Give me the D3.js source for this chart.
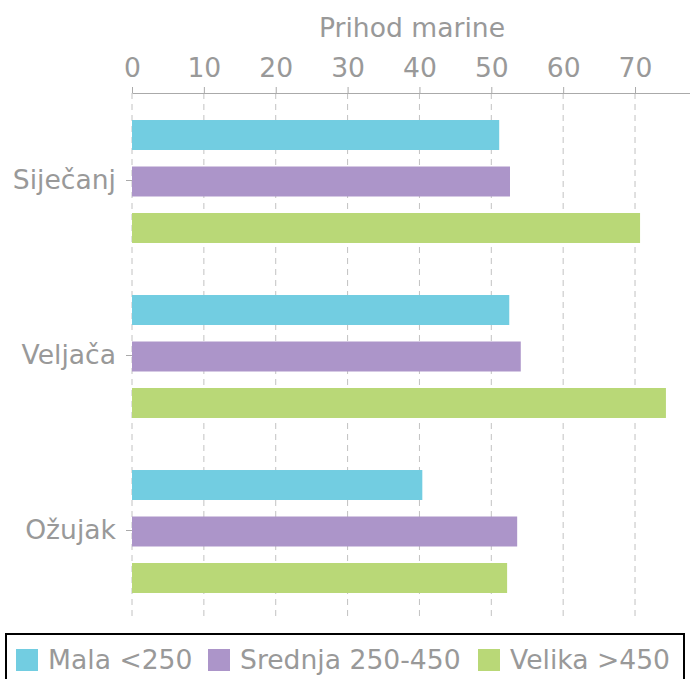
<!DOCTYPE html>
<html>
<head>
<meta charset="utf-8">
<script src="https://cdn.jsdelivr.net/npm/d3@7"></script>
<style>
    body { margin: 0; background: #fff; }
    text { font-family: 'DejaVu Sans', sans-serif; fill: #999; }
</style>
</head>
<body>
<div id="chart"></div>
<script>
// data
var months = ['Siječanj', 'Veljača', 'Ožujak'];
var series = ['Mala <250', 'Srednja 250-450', 'Velika >450'];
var mala = [51.1, 52.5, 40.4];
var srednja = [52.6, 54.1, 53.6];
var velika = [70.7, 74.3, 52.2];
var xTicks = [0, 10, 20, 30, 40, 50, 60, 70];
var colors = ['#72cde1', '#ac95c9', '#b9d877'];

var values = [mala, srednja, velika];
var width = 690, height = 679,
    plotLeft = 132, plotTop = 93, plotBottom = 618,
    fontSize = '26.6px';

var svg = d3.select('#chart').append('svg')
    .attr('width', width)
    .attr('height', height);

var x = d3.scaleLinear().domain([0, 77.65]).range([plotLeft, width]);
var y = d3.scaleBand().domain(months).range([plotTop, plotBottom]);
var yInner = d3.scaleBand().domain(series).range([2, y.bandwidth()])
    .paddingInner(0.355).paddingOuter(0.538);

// grid (0 included, it stands in for the left axis line)
svg.append('g').selectAll('line')
    .data(xTicks)
    .enter().append('line')
    .attr('x1', d => x(d)).attr('x2', d => x(d))
    .attr('y1', plotTop).attr('y2', plotBottom + 1)
    .attr('stroke', '#c2c2c2')
    .attr('stroke-dasharray', '6,5');

// bars
months.forEach(function (m, i) {
    var g = svg.append('g').attr('transform', 'translate(0,' + y(m) + ')');
    g.selectAll('rect')
        .data(series.map((s, j) => ({ s: s, v: values[j][i], c: colors[j] })))
        .enter().append('rect')
        .attr('x', x(0))
        .attr('y', d => yInner(d.s))
        .attr('width', d => x(d.v) - x(0))
        .attr('height', yInner.bandwidth())
        .attr('fill', d => d.c);
});

// top axis
var xAxis = svg.append('g')
    .attr('transform', 'translate(0,' + plotTop + ')')
    .call(d3.axisTop(x).tickValues(xTicks).tickSize(6).tickPadding(10).tickSizeOuter(0));
xAxis.selectAll('text').style('font-size', fontSize).attr('fill', '#999');
xAxis.selectAll('line, path').attr('stroke', '#aaa');

svg.append('text')
    .attr('x', 412).attr('y', 37)
    .attr('text-anchor', 'middle')
    .style('font-size', fontSize)
    .text('Prihod marine');

// left axis: ticks and labels only
var yAxis = svg.append('g')
    .attr('transform', 'translate(' + plotLeft + ',0)')
    .call(d3.axisLeft(y).tickSize(6).tickPadding(10).tickSizeOuter(0));
yAxis.select('.domain').remove();
yAxis.selectAll('text').style('font-size', fontSize).attr('fill', '#999');
yAxis.selectAll('line').attr('stroke', '#aaa');

// legend
svg.append('rect')
    .attr('x', 6).attr('y', 634)
    .attr('width', 678).attr('height', 60)
    .attr('fill', 'none')
    .attr('stroke', '#000')
    .attr('stroke-width', 2);

var legendX = [16, 208, 478];
var legend = svg.append('g').selectAll('g')
    .data(series)
    .enter().append('g')
    .attr('transform', (d, i) => 'translate(' + legendX[i] + ',649)');
legend.append('rect')
    .attr('width', 22).attr('height', 22)
    .attr('fill', (d, i) => colors[i]);
legend.append('text')
    .attr('x', 32).attr('y', 20)
    .style('font-size', fontSize)
    .text(d => d);
</script>
</body>
</html>
